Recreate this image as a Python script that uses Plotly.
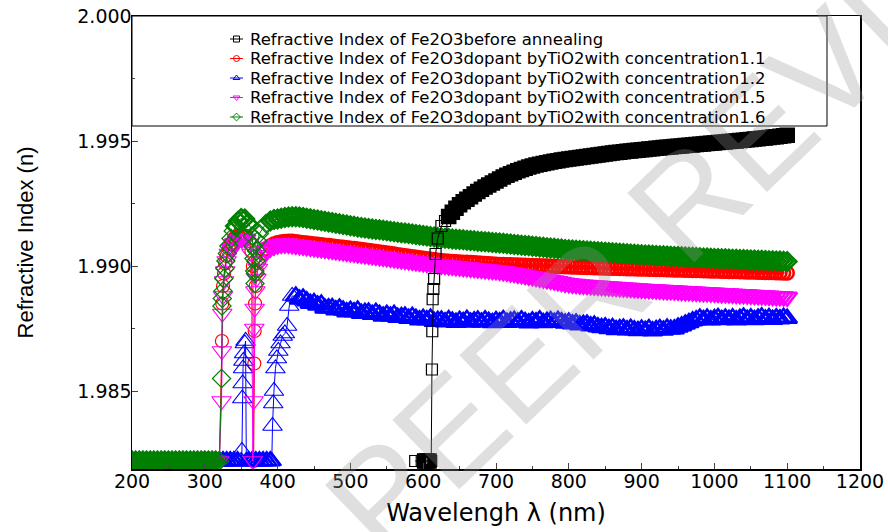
import plotly.graph_objects as go

# ---------------- data ----------------
WL_LOW = [200, 205, 210, 215, 220, 225, 230, 235, 240, 245,
          250, 255, 260, 265, 270, 275, 280, 285, 290, 295,
          300, 305, 310, 315, 320]
N_LOW = [1.9822, 1.9822, 1.9822, 1.9822, 1.9822, 1.9822, 1.9822, 1.9822, 1.9822, 1.9822,
         1.9822, 1.9822, 1.9822, 1.9822, 1.9822, 1.9822, 1.9822, 1.9822, 1.9822, 1.9822,
         1.9822, 1.9822, 1.9822, 1.9822, 1.9822]
WL_BLUE_LOW = [200, 205, 210, 215, 220, 225, 230, 235, 240, 245,
               250, 255, 260, 265, 270, 275, 280, 285, 290, 295,
               300, 305, 310, 315, 320, 325, 330, 335, 340, 345, 350]
N_BLUE_LOW = [1.9822, 1.9822, 1.9822, 1.9822, 1.9822, 1.9822, 1.9822, 1.9822, 1.9822, 1.9822,
              1.9822, 1.9822, 1.9822, 1.9822, 1.9822, 1.9822, 1.9822, 1.9822, 1.9822, 1.9822,
              1.9822, 1.9822, 1.9822, 1.9822, 1.9822, 1.9822, 1.9822, 1.9822, 1.9822, 1.9822, 1.9822]
WL_TAIL = [425, 430, 435, 440, 445, 450, 455, 460, 465, 470,
           475, 480, 485, 490, 495, 500, 505, 510, 515, 520,
           525, 530, 535, 540, 545, 550, 555, 560, 565, 570,
           575, 580, 585, 590, 595, 600, 605, 610, 615, 620,
           625, 630, 635, 640, 645, 650, 655, 660, 665, 670,
           675, 680, 685, 690, 695, 700, 705, 710, 715, 720,
           725, 730, 735, 740, 745, 750, 755, 760, 765, 770,
           775, 780, 785, 790, 795, 800, 805, 810, 815, 820,
           825, 830, 835, 840, 845, 850, 855, 860, 865, 870,
           875, 880, 885, 890, 895, 900, 905, 910, 915, 920,
           925, 930, 935, 940, 945, 950, 955, 960, 965, 970,
           975, 980, 985, 990, 995, 1000, 1005, 1010, 1015, 1020,
           1025, 1030, 1035, 1040, 1045, 1050, 1055, 1060, 1065, 1070,
           1075, 1080, 1085, 1090, 1095, 1100]

# --- before annealing (black)
WL_BLACK_HEAD = [589, 598, 602, 605, 608, 611, 612, 612.5, 613, 614, 615, 617]
N_BLACK_HEAD = [1.9822, 1.9822, 1.9822, 1.9822, 1.9822, 1.9822,
                1.98586, 1.98739, 1.98867, 1.98908, 1.98948, 1.99048]
N_BLACK_TAIL = [  # 620 ... 1100
    1.99110, 1.99160, 1.99180, 1.99198, 1.99215, 1.99231, 1.99245, 1.99257, 1.99267, 1.99277,
    1.99288, 1.99298, 1.99307, 1.99316, 1.99324, 1.99332, 1.99340, 1.99348, 1.99356, 1.99363,
    1.99369, 1.99375, 1.99381, 1.99386, 1.99391, 1.99396, 1.99400, 1.99404, 1.99407, 1.99410,
    1.99413, 1.99416, 1.99419, 1.99421, 1.99424, 1.99426, 1.99428, 1.99430, 1.99432, 1.99434,
    1.99436, 1.99438, 1.99440, 1.99442, 1.99444, 1.99446, 1.99448, 1.99450, 1.99452, 1.99454,
    1.99455, 1.99457, 1.99459, 1.99460, 1.99462, 1.99463, 1.99465, 1.99466, 1.99468, 1.99469,
    1.99471, 1.99472, 1.99474, 1.99475, 1.99476, 1.99478, 1.99479, 1.99480, 1.99482, 1.99483,
    1.99484, 1.99486, 1.99487, 1.99488, 1.99490, 1.99491, 1.99492, 1.99494, 1.99495, 1.99496,
    1.99498, 1.99499, 1.99500, 1.99502, 1.99503, 1.99505, 1.99506, 1.99508, 1.99509, 1.99511,
    1.99512, 1.99514, 1.99516, 1.99517, 1.99519, 1.99521, 1.99523]

# --- concentration 1.1 (red)
WL_RED_HEAD = [323.5, 324, 325, 326.5, 328, 330, 333, 337, 341, 346,
               351, 356, 361, 364, 366, 367, 368, 368.5, 369, 370,
               372, 375, 379, 384, 390, 395, 400, 405, 410, 415, 420]
N_RED_HEAD = [1.9870, 1.9885, 1.9892, 1.9897, 1.9901, 1.9904, 1.9907, 1.9909, 1.9911, 1.9912,
              1.99122, 1.99118, 1.9910, 1.9906, 1.9900, 1.9822, 1.9861, 1.9874, 1.9885, 1.9892,
              1.9898, 1.9902, 1.9905, 1.99068, 1.99080, 1.99088, 1.99093, 1.99096, 1.99098, 1.99099, 1.99099]
N_RED_TAIL = [
    1.99097, 1.99095, 1.99093, 1.99092, 1.99090, 1.99088, 1.99087, 1.99085, 1.99083, 1.99082,
    1.99080, 1.99078, 1.99076, 1.99075, 1.99073, 1.99071, 1.99070, 1.99068, 1.99066, 1.99064,
    1.99062, 1.99060, 1.99058, 1.99056, 1.99054, 1.99052, 1.99050, 1.99048, 1.99045, 1.99043,
    1.99041, 1.99039, 1.99037, 1.99035, 1.99033, 1.99031, 1.99029, 1.99027, 1.99025, 1.99023,
    1.99021, 1.99020, 1.99019, 1.99018, 1.99017, 1.99016, 1.99015, 1.99015, 1.99014, 1.99013,
    1.99012, 1.99011, 1.99010, 1.99009, 1.99008, 1.99007, 1.99006, 1.99006, 1.99005, 1.99005,
    1.99004, 1.99004, 1.99003, 1.99003, 1.99002, 1.99002, 1.99001, 1.99001, 1.99000, 1.99000,
    1.98999, 1.98999, 1.98998, 1.98998, 1.98997, 1.98997, 1.98996, 1.98996, 1.98995, 1.98995,
    1.98994, 1.98994, 1.98993, 1.98993, 1.98992, 1.98992, 1.98991, 1.98991, 1.98991, 1.98990,
    1.98990, 1.98989, 1.98989, 1.98989, 1.98988, 1.98988, 1.98988, 1.98987, 1.98987, 1.98986,
    1.98986, 1.98986, 1.98985, 1.98985, 1.98984, 1.98984, 1.98984, 1.98983, 1.98983, 1.98982,
    1.98982, 1.98982, 1.98981, 1.98981, 1.98980, 1.98980, 1.98980, 1.98979, 1.98979, 1.98978,
    1.98978, 1.98978, 1.98977, 1.98977, 1.98976, 1.98976, 1.98976, 1.98975, 1.98975, 1.98974,
    1.98974, 1.98974, 1.98973, 1.98973, 1.98972, 1.98972]

# --- concentration 1.2 (blue)
WL_BLUE_HEAD = [351, 351.5, 352, 352.5, 353, 354, 355, 356, 357, 360,
                365, 370, 375, 380, 385, 390, 392, 393, 394, 395,
                397, 399, 401, 404, 407, 410, 413, 416, 420]
N_BLUE_HEAD = [1.9826, 1.9847, 1.9853, 1.9859, 1.9862, 1.9865, 1.9869, 1.9870, 1.9822, 1.9822,
               1.9822, 1.9822, 1.9822, 1.9822, 1.9822, 1.9822, 1.9822, 1.9836, 1.9845, 1.9850,
               1.9859, 1.9863, 1.9866, 1.9869, 1.9872, 1.9873, 1.9876, 1.9884, 1.9888]
N_BLUE_TAIL = [
    1.98879, 1.98867, 1.98871, 1.98860, 1.98850, 1.98853, 1.98843, 1.98847, 1.98831, 1.98832,
    1.98833, 1.98824, 1.98831, 1.98823, 1.98816, 1.98822, 1.98816, 1.98823, 1.98810, 1.98814,
    1.98815, 1.98806, 1.98814, 1.98806, 1.98799, 1.98806, 1.98799, 1.98806, 1.98794, 1.98797,
    1.98799, 1.98790, 1.98798, 1.98790, 1.98784, 1.98790, 1.98784, 1.98791, 1.98778, 1.98782,
    1.98783, 1.98776, 1.98785, 1.98779, 1.98774, 1.98782, 1.98777, 1.98786, 1.98775, 1.98780,
    1.98783, 1.98775, 1.98784, 1.98778, 1.98773, 1.98781, 1.98776, 1.98785, 1.98774, 1.98779,
    1.98782, 1.98775, 1.98784, 1.98777, 1.98772, 1.98780, 1.98776, 1.98784, 1.98773, 1.98778,
    1.98781, 1.98774, 1.98782, 1.98776, 1.98771, 1.98775, 1.98768, 1.98771, 1.98764, 1.98766,
    1.98767, 1.98760, 1.98763, 1.98756, 1.98753, 1.98756, 1.98749, 1.98753, 1.98745, 1.98749,
    1.98751, 1.98744, 1.98750, 1.98744, 1.98741, 1.98747, 1.98742, 1.98749, 1.98740, 1.98745,
    1.98749, 1.98743, 1.98751, 1.98747, 1.98748, 1.98755, 1.98760, 1.98767, 1.98773, 1.98780,
    1.98784, 1.98791, 1.98785, 1.98791, 1.98784, 1.98789, 1.98793, 1.98785, 1.98791, 1.98786,
    1.98792, 1.98784, 1.98790, 1.98795, 1.98786, 1.98792, 1.98785, 1.98791, 1.98796, 1.98787,
    1.98793, 1.98786, 1.98792, 1.98788, 1.98794, 1.98790]

# --- concentration 1.5 (magenta)
WL_PINK_HEAD = [323, 323.5, 324, 325, 326.5, 328, 330, 333, 337, 341,
                346, 351, 356, 361, 364, 366, 367, 368, 368.5, 369.5,
                371, 373, 376, 380, 385, 390, 395, 400, 405, 410, 415, 420]
N_PINK_HEAD = [1.9846, 1.9866, 1.9881, 1.9888, 1.9894, 1.9898, 1.9902, 1.9905, 1.9907, 1.9909,
               1.99105, 1.9911, 1.99108, 1.9909, 1.9905, 1.9822, 1.9846, 1.9875, 1.9883, 1.9890,
               1.9895, 1.9899, 1.9902, 1.99045, 1.99062, 1.99073, 1.99080, 1.99085, 1.99088, 1.99089,
               1.99088, 1.99086]
N_PINK_TAIL = [
    1.99084, 1.99082, 1.99080, 1.99078, 1.99076, 1.99074, 1.99072, 1.99070, 1.99068, 1.99066,
    1.99064, 1.99062, 1.99060, 1.99058, 1.99056, 1.99054, 1.99052, 1.99050, 1.99048, 1.99046,
    1.99044, 1.99042, 1.99040, 1.99038, 1.99036, 1.99034, 1.99032, 1.99030, 1.99028, 1.99026,
    1.99024, 1.99022, 1.99020, 1.99018, 1.99016, 1.99014, 1.99012, 1.99010, 1.99008, 1.99006,
    1.99004, 1.99003, 1.99001, 1.99000, 1.98998, 1.98997, 1.98995, 1.98994, 1.98992, 1.98991,
    1.98989, 1.98988, 1.98986, 1.98985, 1.98983, 1.98982, 1.98980, 1.98978, 1.98976, 1.98973,
    1.98971, 1.98968, 1.98966, 1.98963, 1.98960, 1.98958, 1.98955, 1.98952, 1.98949, 1.98946,
    1.98944, 1.98941, 1.98938, 1.98935, 1.98932, 1.98930, 1.98928, 1.98927, 1.98925, 1.98924,
    1.98923, 1.98922, 1.98921, 1.98920, 1.98919, 1.98918, 1.98917, 1.98916, 1.98915, 1.98914,
    1.98913, 1.98912, 1.98911, 1.98910, 1.98909, 1.98908, 1.98907, 1.98906, 1.98906, 1.98905,
    1.98904, 1.98903, 1.98902, 1.98902, 1.98901, 1.98900, 1.98899, 1.98898, 1.98898, 1.98897,
    1.98896, 1.98895, 1.98894, 1.98894, 1.98893, 1.98892, 1.98891, 1.98890, 1.98890, 1.98889,
    1.98888, 1.98887, 1.98886, 1.98886, 1.98885, 1.98884, 1.98883, 1.98882, 1.98882, 1.98881,
    1.98880, 1.98879, 1.98878, 1.98878, 1.98877, 1.98876]

# --- concentration 1.6 (green)
WL_GREEN_HEAD = [323, 323.5, 324, 325, 326, 327.5, 329, 331, 333, 336,
                 339, 342, 346, 350, 355, 359, 362, 365, 366.5, 367.5,
                 368.5, 369, 369.5, 370, 371, 372.5, 375, 379, 384, 390,
                 395, 400, 405, 410, 415, 420]
N_GREEN_HEAD = [1.9855, 1.9884, 1.9887, 1.9890, 1.9895, 1.9899, 1.9902, 1.9905, 1.9908, 1.9911,
                1.9914, 1.9916, 1.9918, 1.99190, 1.99188, 1.9917, 1.9916, 1.9912, 1.9908, 1.9903,
                1.9898, 1.9893, 1.9897, 1.9902, 1.9906, 1.9910, 1.9913, 1.9915, 1.9917, 1.99180,
                1.99186, 1.99188, 1.99191, 1.99194, 1.99196, 1.99197]
N_GREEN_TAIL = [
    1.99197, 1.99196, 1.99194, 1.99191, 1.99189, 1.99186, 1.99184, 1.99181, 1.99179, 1.99176,
    1.99174, 1.99171, 1.99169, 1.99166, 1.99164, 1.99161, 1.99159, 1.99156, 1.99154, 1.99152,
    1.99150, 1.99148, 1.99146, 1.99145, 1.99143, 1.99141, 1.99139, 1.99137, 1.99135, 1.99133,
    1.99132, 1.99130, 1.99128, 1.99126, 1.99124, 1.99122, 1.99120, 1.99118, 1.99116, 1.99114,
    1.99112, 1.99111, 1.99110, 1.99108, 1.99107, 1.99106, 1.99105, 1.99103, 1.99102, 1.99101,
    1.99099, 1.99098, 1.99097, 1.99096, 1.99094, 1.99093, 1.99092, 1.99091, 1.99089, 1.99088,
    1.99086, 1.99085, 1.99083, 1.99082, 1.99081, 1.99079, 1.99078, 1.99076, 1.99075, 1.99073,
    1.99072, 1.99071, 1.99069, 1.99068, 1.99066, 1.99065, 1.99064, 1.99063, 1.99062, 1.99061,
    1.99060, 1.99059, 1.99058, 1.99057, 1.99056, 1.99055, 1.99054, 1.99053, 1.99052, 1.99051,
    1.99050, 1.99049, 1.99048, 1.99047, 1.99046, 1.99045, 1.99044, 1.99044, 1.99043, 1.99042,
    1.99041, 1.99041, 1.99040, 1.99039, 1.99038, 1.99038, 1.99037, 1.99036, 1.99035, 1.99035,
    1.99034, 1.99033, 1.99032, 1.99032, 1.99031, 1.99030, 1.99030, 1.99029, 1.99029, 1.99028,
    1.99027, 1.99027, 1.99026, 1.99026, 1.99025, 1.99024, 1.99024, 1.99023, 1.99023, 1.99022,
    1.99021, 1.99021, 1.99020, 1.99020, 1.99019, 1.99018]

NAMES = ["Refractive Index of Fe2O3before annealing",
         "Refractive Index of Fe2O3dopant byTiO2with concentration1.1",
         "Refractive Index of Fe2O3dopant byTiO2with concentration1.2",
         "Refractive Index of Fe2O3dopant byTiO2with concentration1.5",
         "Refractive Index of Fe2O3dopant byTiO2with concentration1.6"]
X_TICKS = [200, 300, 400, 500, 600, 700, 800, 900, 1000, 1100, 1200]
Y_TICKS = [1.985, 1.990, 1.995, 2.000]
Y_TICK_TEXT = ["1.985", "1.990", "1.995", "2.000"]
X_RANGE = [200, 1200]
Y_RANGE = [1.98188, 2.0]
WATERMARK = "PEER REVIEW"

# ---------------- layout geometry (pixels) ----------------
W, H = 888, 532
X0, X1 = 132, 860
Y0, Y1 = 16, 469
PW, PH = X1 - X0, Y1 - Y0
PX_PER_NM = PW / (X_RANGE[1] - X_RANGE[0])
PX_PER_N = PH / (Y_RANGE[1] - Y_RANGE[0])

# ---------------- assemble series ----------------
black_tail_start = WL_TAIL.index(620)
series = {
    "black": (WL_BLACK_HEAD + WL_TAIL[black_tail_start:], N_BLACK_HEAD + N_BLACK_TAIL),
    "red": (WL_LOW + WL_RED_HEAD + WL_TAIL, N_LOW + N_RED_HEAD + N_RED_TAIL),
    "blue": (WL_BLUE_LOW + WL_BLUE_HEAD + WL_TAIL, N_BLUE_LOW + N_BLUE_HEAD + N_BLUE_TAIL),
    "pink": (WL_LOW + WL_PINK_HEAD + WL_TAIL, N_LOW + N_PINK_HEAD + N_PINK_TAIL),
    "green": (WL_LOW + WL_GREEN_HEAD + WL_TAIL, N_LOW + N_GREEN_HEAD + N_GREEN_TAIL),
}

style = {
    "black": dict(color="#000000", symbol="square-open", size=11, dense=4.6, name=NAMES[0]),
    "red": dict(color="#FF0000", symbol="circle-open", size=13, dense=2.6, name=NAMES[1]),
    "blue": dict(color="#0000FF", symbol="triangle-up-open", size=17, dense=2.6, name=NAMES[2]),
    "pink": dict(color="#FF00FF", symbol="triangle-down-open", size=17, dense=2.6, name=NAMES[3]),
    "green": dict(color="#008000", symbol="diamond-open", size=14, dense=2.6, name=NAMES[4]),
}


def outline_widths(xs, ys, dense_w):
    """Thicker outlines where markers crowd together (mimics the very dense
    original sampling), thin outlines for isolated markers."""
    out = []
    for i in range(len(xs)):
        dists = []
        for j in (i - 1, i + 1):
            if 0 <= j < len(xs):
                dx = (xs[j] - xs[i]) * PX_PER_NM
                dy = (ys[j] - ys[i]) * PX_PER_N
                dists.append((dx * dx + dy * dy) ** 0.5)
        out.append(dense_w if all(d < 6 for d in dists) else 1.2)
    return out


fig = go.Figure()

# watermark (very light)
fig.add_annotation(
    x=(700 - X0) / PW, y=(Y1 - 190) / PH, xref="paper", yref="paper",
    xanchor="center", yanchor="middle",
    text=WATERMARK, showarrow=False, textangle=-44,
    font=dict(family="Liberation Sans", size=140, color="rgba(150,150,150,0.30)"))

for key in ["red", "blue", "pink", "green", "black"]:
    xs, ys = series[key]
    st = style[key]
    fig.add_trace(go.Scatter(
        x=xs, y=ys, mode="lines+markers", showlegend=False, name=st["name"],
        line=dict(color=st["color"], width=1),
        marker=dict(symbol=st["symbol"], size=st["size"], color=st["color"],
                    line=dict(width=outline_widths(xs, ys, st["dense"]), color=st["color"])),
    ))

# ---------------- legend (boxed key drawn in pixel space) ----------------
LEG_ROWS = [39, 58.5, 78, 97.5, 117]
LEG_SYM_X = [230, 236.5, 243]
LEG_TEXT_X = 248
for key, row in zip(["black", "red", "blue", "pink", "green"], LEG_ROWS):
    st = style[key]
    fig.add_trace(go.Scatter(
        x=LEG_SYM_X, y=[row, row, row], xaxis="x2", yaxis="y2",
        mode="lines", showlegend=False, hoverinfo="skip",
        line=dict(color=st["color"], width=1)))
    fig.add_trace(go.Scatter(
        x=[LEG_SYM_X[1]], y=[row], xaxis="x2", yaxis="y2",
        mode="markers", showlegend=False, hoverinfo="skip",
        marker=dict(symbol=st["symbol"], size=6, color=st["color"],
                    line=dict(width=1, color=st["color"]))))
    fig.add_annotation(
        x=(LEG_TEXT_X - X0) / PW, y=(Y1 - row) / PH, xref="paper", yref="paper",
        xanchor="left", yanchor="middle", showarrow=False, text=st["name"],
        font=dict(family="DejaVu Sans", size=16.5, color="black"))

fig.add_shape(type="rect", xref="paper", yref="paper",
              x0=0, x1=(827 - X0) / PW, y0=(Y1 - 126) / PH, y1=1,
              line=dict(color="black", width=1), fillcolor="white", layer="below")

fig.update_layout(
    width=W, height=H,
    margin=dict(l=X0, r=W - X1, t=Y0, b=H - Y1),
    paper_bgcolor="white", plot_bgcolor="white",
    font=dict(family="DejaVu Sans", color="black"),
    showlegend=False,
    xaxis=dict(range=X_RANGE, tickvals=X_TICKS, ticks="inside", ticklen=6,
               minor=dict(ticks="inside", ticklen=3, dtick=50),
               showline=True, linecolor="black", linewidth=1.5, mirror=True,
               showgrid=False, zeroline=False, automargin=False,
               ticklabelstandoff=-5,
               tickfont=dict(family="DejaVu Sans", size=19, color="black"),
               title=dict(text="Wavelengh λ (nm)", standoff=13,
                          font=dict(family="DejaVu Sans", size=24, color="black"))),
    yaxis=dict(range=Y_RANGE, tickvals=Y_TICKS, ticktext=Y_TICK_TEXT,
               ticks="inside", ticklen=6,
               minor=dict(ticks="inside", ticklen=3, dtick=0.0025),
               showline=True, linecolor="black", linewidth=1.5, mirror=True,
               showgrid=False, zeroline=False, automargin=False,
               ticklabelstandoff=-5,
               tickfont=dict(family="DejaVu Sans", size=19, color="black"),
               title=dict(text="Refractive Index (n)", standoff=37,
                          font=dict(family="Liberation Sans", size=22, color="black"))),
    xaxis2=dict(overlaying="x", range=[X0, X1], visible=False, fixedrange=True),
    yaxis2=dict(overlaying="y", range=[Y1, Y0], visible=False, fixedrange=True),
)

fig.write_html("out.html",
               config={"displayModeBar": False, "staticPlot": True},
               post_script="document.body.style.margin='0px';"
                           "document.body.style.overflow='hidden';")
